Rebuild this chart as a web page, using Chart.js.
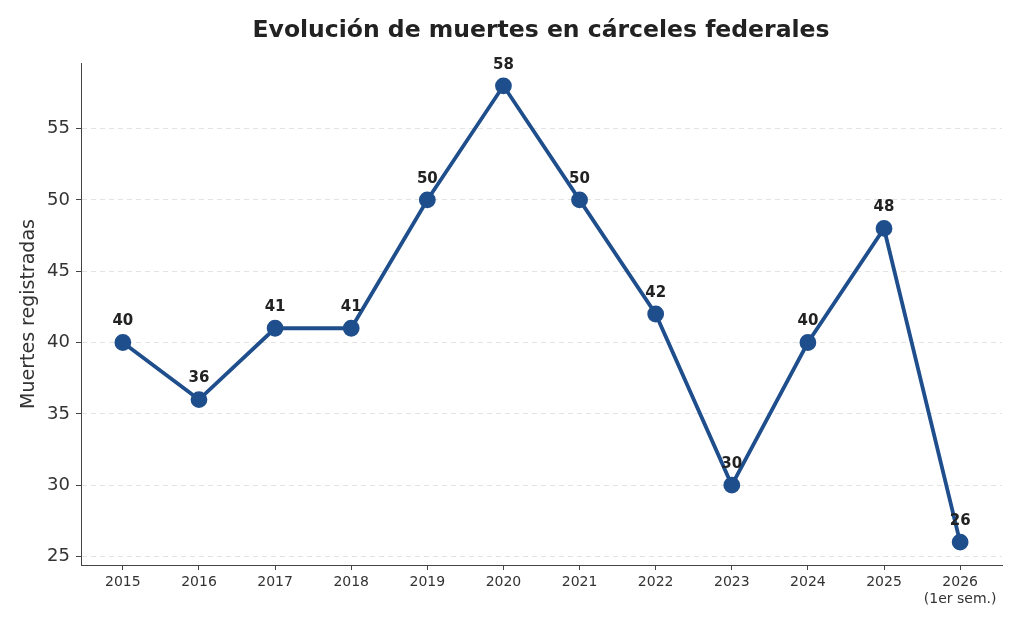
<!DOCTYPE html>
<html><head><meta charset="utf-8">
<script src="https://cdn.jsdelivr.net/npm/chart.js@4"></script>
<style>html,body{margin:0;padding:0;background:#fff}#wrap{width:1024px;height:626px}</style>
</head><body><div id="wrap"><canvas id="c" width="1024" height="626"></canvas></div>
<script>
const years = ['2015','2016','2017','2018','2019','2020','2021','2022','2023','2024','2025','2026'];
const yearNotes = ['','','','','','','','','','','','(1er sem.)'];
const deaths = [40,36,41,41,50,58,50,42,30,40,48,26];
const yTicks = [25,30,35,40,45,50,55];
const titleText = 'Evolución de muertes en cárceles federales';
const yTitle = 'Muertes registradas';
const lineColor = '#1f4e8c';
const FONT = "'DejaVu Sans', sans-serif";

const pts = deaths.map((v,i)=>({x:i,y:v}));

const labelPlugin = {
  id:'labels',
  afterDatasetsDraw(chart){
    const ctx = chart.ctx;
    const meta = chart.getDatasetMeta(0);
    ctx.save();
    ctx.font = "bold 15px " + FONT;
    ctx.fillStyle = '#222';
    ctx.textAlign = 'center';
    ctx.textBaseline = 'middle';
    meta.data.forEach((p,i)=>{ ctx.fillText(String(deaths[i]), p.x, p.y - 21); });
    ctx.restore();
  },
  afterDraw(chart){
    const ctx = chart.ctx;
    ctx.save();
    ctx.font = "bold 23.5px " + FONT;
    ctx.fillStyle = '#222';
    ctx.textAlign = 'center';
    ctx.textBaseline = 'middle';
    ctx.fillText(titleText, 541, 31);
    ctx.restore();
  }
};

new Chart(document.getElementById('c'), {
  type:'line',
  data:{datasets:[{data:pts, borderColor:lineColor, backgroundColor:lineColor, borderWidth:3.8,
    pointRadius:6.5, pointHoverRadius:6.5, pointBackgroundColor:lineColor, pointBorderColor:lineColor, tension:0}]},
  options:{
    responsive:false, animation:false, devicePixelRatio:1,
    layout:{padding:{top:63,right:22,left:18,bottom:0}},
    plugins:{legend:{display:false}, tooltip:{enabled:false}, title:{display:false}},
    scales:{
      x:{type:'linear', min:-0.55, max:11.55,
        afterBuildTicks(s){ s.ticks = years.map((y,i)=>({value:i})); },
        afterFit(s){ s.height = 61; },
        ticks:{color:'#333', font:{family:FONT, size:14}, padding:4, maxRotation:0, autoSkip:false,
          callback:(v)=>{ const i=Math.round(v); return yearNotes[i] ? [years[i], yearNotes[i]] : years[i]; }},
        grid:{display:true, drawOnChartArea:false, drawTicks:true, tickLength:5, tickColor:'#444', tickWidth:1},
        border:{display:true, color:'#444', width:1}
      },
      y:{min:24.4, max:59.6,
        afterBuildTicks(s){ s.ticks = yTicks.map(v=>({value:v})); },
        afterFit(s){ s.width = 63; },
        title:{display:true, text:yTitle, color:'#333', font:{family:FONT, size:19}, padding:{top:0,bottom:0}},
        ticks:{color:'#333', font:{family:FONT, size:18}, padding:6},
        grid:{display:true, drawOnChartArea:true, color:'#e3e3e3', lineWidth:1, drawTicks:true, tickLength:5, tickColor:'#444', tickBorderDash:[]},
        border:{display:true, color:'#444', width:1, dash:[5,4]}
      }
    }
  },
  plugins:[labelPlugin]
});
</script></body></html>
